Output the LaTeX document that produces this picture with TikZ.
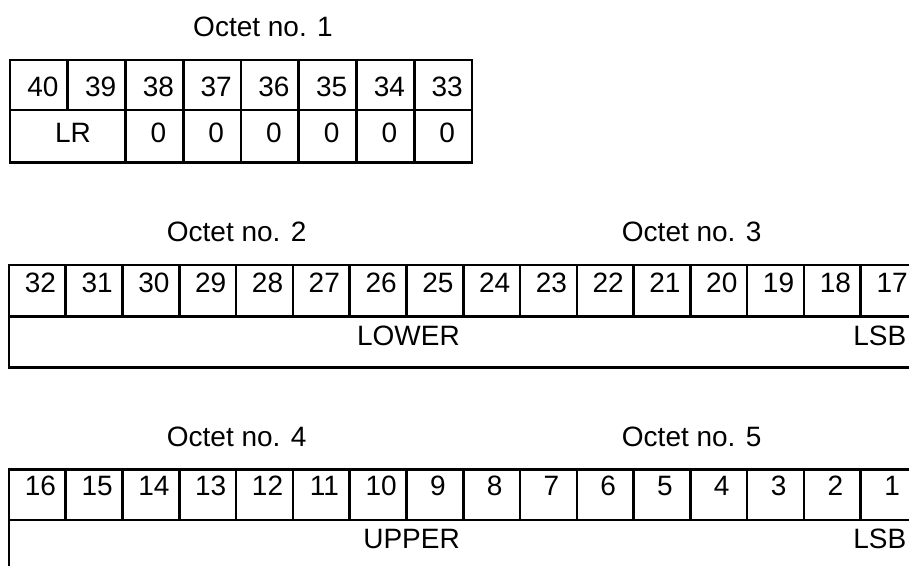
\documentclass[tikz,border=0pt]{standalone}
\usepackage{fontspec}
\setmainfont{Liberation Sans}
\begin{document}
\begin{tikzpicture}[x=1pt,y=-1pt,
  gridline/.style={line width=2.6pt, black},
  lbl/.style={font=\fontsize{28}{30}\selectfont, inner sep=0pt, anchor=base},
  lble/.style={font=\fontsize{28}{30}\selectfont, inner sep=0pt, anchor=base east},
]
\useasboundingbox (0,0) rectangle (909,565);
\clip (0,0) rectangle (909,565);
\fill[white] (0,0) rectangle (909,565);

% ---------- Table 1 (Octet no. 1) ----------
\node[lbl] (oct1) at (263,36.7) {Octet no. 1};
\draw[gridline] (10,60) rectangle (472,162.7);
\draw[gridline] (10,110) -- (472,110);
\draw[gridline] (67.75,60) -- (67.75,110);
\foreach \i in {2,...,7}{
  \draw[gridline] ({10+\i*57.75},60) -- ({10+\i*57.75},162.7);
}
\foreach \i in {0,...,7}{
  \pgfmathtruncatemacro{\n}{40-\i}
  \node[lbl] (t1b\n) at ({10+(\i+0.5)*57.75+4},96) {\n};
}
\foreach \i in {2,...,7}{
  \node[lbl] (t1z\i) at ({10+(\i+0.5)*57.75+4},142) {0};
}
\node[lbl] (lr) at (73,142) {LR};

% ---------- Table 2 (Octets no. 2 and 3) ----------
\node[lbl] (oct2) at (236.7,241.7) {Octet no. 2};
\node[lbl] (oct3) at (691.7,241.7) {Octet no. 3};
\draw[gridline] (9,265) rectangle (917.5,367.7);
\draw[gridline] (9,316.7) -- (917.5,316.7);
\foreach \i in {1,...,15}{
  \draw[gridline] ({9+\i*56.78},265) -- ({9+\i*56.78},316.7);
}
\foreach \i in {0,...,15}{
  \pgfmathtruncatemacro{\n}{32-\i}
  \node[lbl] (t2b\n) at ({9+(\i+0.5)*56.78+3},292) {\n};
}
\node[lble] (lower) at (460,345) {LOWER};
\node[lble] (lsba) at (906.5,345) {LSB};

% ---------- Table 3 (Octets no. 4 and 5) ----------
\node[lbl] (oct4) at (236.7,446.5) {Octet no. 4};
\node[lbl] (oct5) at (691.7,446.5) {Octet no. 5};
\draw[gridline] (9,469.3) rectangle (917.5,571);
\draw[gridline] (9,520) -- (917.5,520);
\foreach \i in {1,...,15}{
  \draw[gridline] ({9+\i*56.78},469.3) -- ({9+\i*56.78},520);
}
\foreach \i in {0,...,15}{
  \pgfmathtruncatemacro{\n}{16-\i}
  \node[lbl] (t3b\n) at ({9+(\i+0.5)*56.78+3},495) {\n};
}
\node[lble] (upper) at (460,548) {UPPER};
\node[lble] (lsbb) at (906.5,548) {LSB};
\end{tikzpicture}
\end{document}
